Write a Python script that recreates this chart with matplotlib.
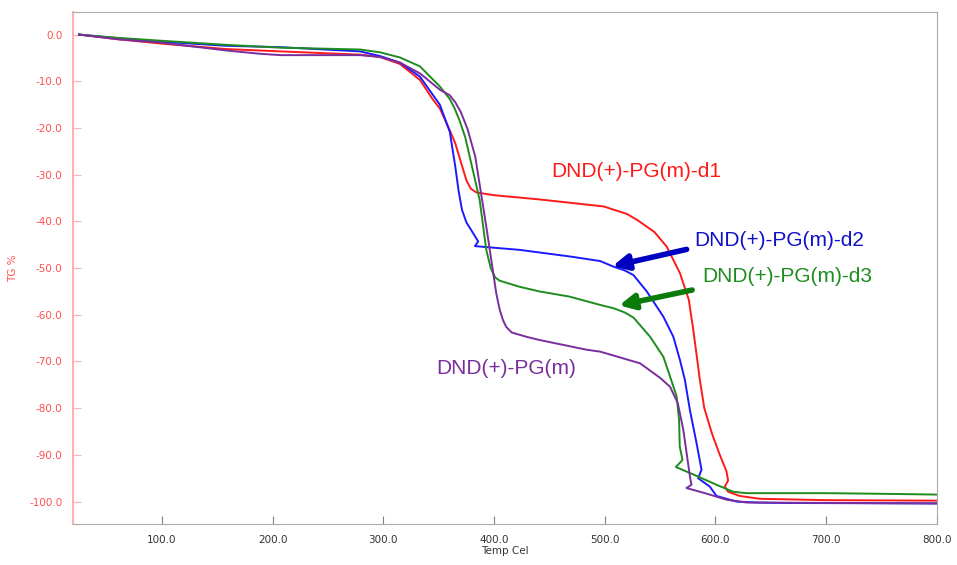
import matplotlib
matplotlib.use("Agg")
import matplotlib.pyplot as plt
from matplotlib.ticker import FormatStrFormatter

# TG curves (temperature in Cel, mass change in %)
d1_t = [25, 60, 98, 158, 207, 279, 297, 315, 333, 345, 351, 360, 365, 375, 379, 384, 392,
        400, 441, 499, 520, 530, 545, 556, 568, 576, 580, 583, 586, 590, 597, 604, 610,
        611.5, 608.5, 611.5, 622, 640, 700, 800]
d1_tg = [0, -1.0, -1.9, -3.1, -3.6, -4.3, -4.8, -6.3, -9.7, -14, -15.8, -20.5, -23.3, -31.2,
         -33.0, -33.8, -34.1, -34.4, -35.3, -36.8, -38.4, -39.8, -42.3, -45.4, -51.1, -56.8,
         -63.2, -68.5, -74, -80, -85.5, -90, -93.5, -95.5, -96.8, -97.9, -98.8, -99.4, -99.7,
         -99.8]

d2_t = [25, 60, 98, 158, 207, 279, 297, 315, 333, 351, 360, 365, 368, 371, 375, 381, 385.7,
        382.7, 423, 468, 496, 508, 518, 526, 538, 553, 562, 568, 572.4, 577, 583, 587.5,
        584.4, 595, 601, 619, 637, 660, 800]
d2_tg = [0, -0.8, -1.5, -2.4, -2.7, -3.6, -4.6, -6.0, -9.0, -15, -20.8, -28.3, -33.5, -37.5,
         -40.2, -42.5, -44.3, -45.3, -46.1, -47.5, -48.5, -49.7, -50.5, -51.5, -55, -60.4,
         -64.7, -69.7, -73.9, -80.4, -87.5, -93.2, -95, -96.8, -98.8, -100, -100.2, -100.3,
         -100.4]

d3_t = [25, 60, 98, 158, 207, 279, 297, 315, 333, 351, 360, 364, 369, 374, 378, 387, 393,
        397, 401, 405, 423, 441, 468, 496, 508, 518, 526, 541, 553, 560, 565, 567.2, 567.8,
        570.3, 564.3, 583, 601, 616, 628, 700, 738, 800]
d3_tg = [0, -0.7, -1.3, -2.2, -2.8, -3.2, -3.8, -4.9, -6.8, -11.1, -13.8, -15.6, -18.5,
         -22.0, -26.1, -35.4, -46.1, -50.0, -52.0, -52.7, -54, -55, -56.1, -57.9, -58.6,
         -59.5, -60.6, -64.7, -69, -73.9, -77.5, -82.5, -88.2, -91.1, -92.6, -94.5, -96.4,
         -97.9, -98.2, -98.2, -98.3, -98.5]

m_t = [25, 60, 98, 158, 188, 207, 279, 297, 315, 333, 351, 360, 365, 370, 376, 383, 393,
       402, 405, 408, 411, 416, 429, 441, 484, 496, 532, 550, 559, 566, 571, 574, 577,
       578.4, 573.9, 592, 610, 628, 800]
m_tg = [0, -1.0, -1.7, -3.4, -4.1, -4.4, -4.4, -4.8, -6.0, -8.3, -11.8, -13.0, -14.5,
        -16.6, -20.2, -26.1, -41.1, -55.4, -58.8, -61.1, -62.6, -63.8, -64.7, -65.4, -67.5,
        -67.9, -70.4, -73.5, -75.4, -78.9, -84.6, -89.6, -94.6, -96.4, -97.1, -98.3, -99.6,
        -100.2, -100.4]

RED = "#ff1a1a"
BLUE = "#1a1aff"
GREEN = "#1e8c1e"
PURPLE = "#7a2e9e"

fig = plt.figure(figsize=(9.57, 5.65), dpi=100)
ax = fig.add_axes([0.0768, 0.0726, 0.902, 0.9067])

ax.plot(d1_t, d1_tg, color=RED, lw=1.4)
ax.plot(d2_t, d2_tg, color=BLUE, lw=1.4)
ax.plot(d3_t, d3_tg, color=GREEN, lw=1.4)
ax.plot(m_t, m_tg, color=PURPLE, lw=1.4)

ax.set_xlim(20, 800)
ax.set_ylim(-104.8, 4.9)
ax.set_xticks([100, 200, 300, 400, 500, 600, 700, 800])
ax.set_yticks([0, -10, -20, -30, -40, -50, -60, -70, -80, -90, -100])
ax.xaxis.set_major_formatter(FormatStrFormatter("%.1f"))
ax.yaxis.set_major_formatter(FormatStrFormatter("%.1f"))

for s in ["top", "right", "bottom"]:
    ax.spines[s].set_color("#a8a8a8")
ax.spines["left"].set_color("#ffb0b0")
ax.spines["left"].set_linewidth(1.5)

ax.tick_params(axis="x", direction="in", length=6, color="#808080",
               labelcolor="#333333", labelsize=7.5, pad=8)
ax.tick_params(axis="y", direction="in", length=6, color="#ffb0b0",
               labelcolor="#ff5050", labelsize=7.5, pad=8)

ax.set_xlabel("Temp Cel", fontsize=7.5, color="#333333", labelpad=1)
ax.set_ylabel("TG %", fontsize=7.5, color="#ff5050")
ax.yaxis.set_label_coords(-0.064, 0.5)

fnt = dict(fontsize=15, family="Liberation Sans", va="center", ha="left")
ax.text(452, -29.4, "DND(+)-PG(m)-d1", color=RED, **fnt)
ax.text(580.5, -44.0, "DND(+)-PG(m)-d2", color="#1010c8", **fnt)
ax.text(588.5, -51.7, "DND(+)-PG(m)-d3", color=GREEN, **fnt)
ax.text(347.5, -71.6, "DND(+)-PG(m)", color=PURPLE, **fnt)

ax.annotate("", xy=(507, -49.6), xytext=(574, -46.0),
            arrowprops=dict(arrowstyle="-|>,head_length=0.9,head_width=0.45",
                            color="#0000c0", lw=4, shrinkA=0, shrinkB=0))
ax.annotate("", xy=(513, -58.0), xytext=(579, -54.7),
            arrowprops=dict(arrowstyle="-|>,head_length=0.9,head_width=0.45",
                            color="#0a7a0a", lw=4, shrinkA=0, shrinkB=0))

fig.savefig("out.png", dpi=100)
